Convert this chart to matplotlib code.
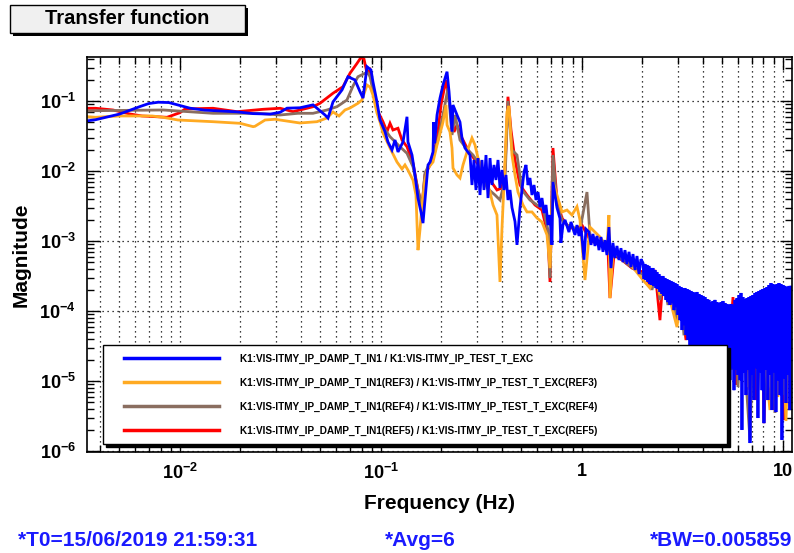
import matplotlib
matplotlib.use("Agg")
import matplotlib.pyplot as plt
from matplotlib import font_manager
from matplotlib.ticker import LogLocator, FuncFormatter, NullFormatter
from matplotlib.patches import Rectangle
from matplotlib.lines import Line2D
from matplotlib.legend_handler import HandlerLine2D

# ---------------- data ----------------
blue_f = [0.00345, 0.0038, 0.0050, 0.0063, 0.0070, 0.0078, 0.0088, 0.0100, 0.0112, 0.0133,
          0.0160, 0.0192, 0.0231, 0.0281, 0.0315, 0.0341, 0.0395, 0.0459, 0.0527, 0.0545,
          0.0577, 0.0640, 0.0685, 0.0742, 0.0786, 0.0814, 0.0852, 0.0892, 0.0912, 0.0955,
          0.0989, 0.1047, 0.1083, 0.1134, 0.1174, 0.1215, 0.1287, 0.1347, 0.1362, 0.1427,
          0.1476, 0.1528, 0.1581, 0.1618, 0.1675, 0.1714, 0.1754, 0.1815, 0.1830, 0.1850,
          0.1900, 0.1966, 0.2035, 0.2131, 0.2180, 0.2256, 0.2282, 0.2389, 0.2472, 0.2529,
          0.2618, 0.2773, 0.2836, 0.2902, 0.2969, 0.3039, 0.3109, 0.3180, 0.3254, 0.3330,
          0.3407, 0.3487, 0.3567, 0.3650, 0.3734, 0.3821, 0.3909, 0.4000, 0.4093, 0.4187,
          0.4284, 0.4384, 0.4485, 0.4642, 0.4750, 0.4916, 0.5030, 0.5147, 0.5266, 0.5388,
          0.5512, 0.5639, 0.5772, 0.5906, 0.6043, 0.6183, 0.6324, 0.6471, 0.6622, 0.6774,
          0.6933, 0.7090, 0.7172, 0.7509, 0.7771, 0.7850,
          0.8043, 0.8233, 0.8616, 0.8815, 0.9230, 0.9443, 0.9662, 0.9886, 1.023, 1.047,
          1.084, 1.109, 1.134, 1.161, 1.188, 1.215, 1.243, 1.272, 1.301, 1.331,
          1.362, 1.394, 1.426, 1.459, 1.493, 1.528, 1.563, 1.600, 1.637, 1.675,
          1.714, 1.754, 1.794, 1.836, 1.878, 1.922, 1.966,
          2.012, 2.035, 2.058, 2.082, 2.106, 2.130, 2.154, 2.179, 2.204, 2.229,
          2.255, 2.281, 2.308, 2.334, 2.361, 2.388, 2.416, 2.443, 2.472, 2.500,
          2.529, 2.558, 2.588, 2.618, 2.648, 2.678, 2.709, 2.741, 2.772, 2.804,
          2.836, 2.869, 2.902, 2.936, 2.969, 3.004, 3.038, 3.073, 3.109, 3.145,
          3.181, 3.217, 3.254, 3.292, 3.330, 3.368, 3.407, 3.446, 3.486, 3.526,
          3.567, 3.608, 3.650, 3.692, 3.734, 3.777, 3.821, 3.865, 3.909, 3.955,
          4.000, 4.046, 4.093, 4.140, 4.187, 4.236, 4.284, 4.334, 4.384, 4.435,
          4.485, 4.537, 4.589, 4.642, 4.696, 4.750, 4.805, 4.861, 4.916, 4.973,
          5.030, 5.088, 5.147, 5.206, 5.266, 5.326, 5.388, 5.451, 5.513, 5.576,
          5.641, 5.706, 5.772, 5.837, 5.906, 5.972, 6.043, 6.112, 6.183, 6.252,
          6.324, 6.397, 6.471, 6.545, 6.622, 6.698, 6.775, 6.853, 6.933, 7.013,
          7.093, 7.173, 7.258, 7.341, 7.426, 7.509, 7.598, 7.684, 7.773, 7.862,
          7.954, 8.044, 8.138, 8.230, 8.327, 8.421, 8.519, 8.615, 8.717, 8.816,
          8.919, 9.020, 9.126, 9.230, 9.336, 9.443, 9.553, 9.663, 9.772, 9.886,
          10.00, 10.12, 10.23, 10.35, 10.47, 10.59, 10.71, 10.83, 10.96]
blue_m = [0.052, 0.054, 0.065, 0.083, 0.092, 0.096, 0.095, 0.086, 0.079, 0.074,
          0.072, 0.070, 0.066, 0.065, 0.069, 0.079, 0.080, 0.088, 0.063, 0.057,
          0.097, 0.144, 0.222, 0.200, 0.136, 0.110, 0.309, 0.277, 0.188, 0.097,
          0.0535, 0.0365, 0.026, 0.020, 0.0277, 0.0187, 0.026, 0.0595, 0.026, 0.0169,
          0.0088, 0.0041, 0.0026, 0.0018, 0.0057, 0.0122, 0.0134, 0.0187, 0.050, 0.025,
          0.063, 0.110, 0.169, 0.262, 0.137, 0.0365, 0.0877, 0.0631, 0.050, 0.0296,
          0.0213, 0.0169, 0.00631, 0.01437, 0.00535, 0.0153, 0.00454, 0.01437, 0.00535, 0.0169,
          0.00411, 0.0153, 0.00631, 0.0122, 0.00744, 0.01437, 0.00572, 0.01033, 0.00535, 0.00877,
          0.00385, 0.00535, 0.0030, 0.0019, 0.00088, 0.0030, 0.00535, 0.0097, 0.0122, 0.00631,
          0.00794, 0.00454, 0.00631, 0.00385, 0.0050, 0.00306, 0.00411, 0.00251, 0.00327, 0.00169,
          0.00235, 0.00088, 0.0070, 0.0030, 0.0021, 0.00094,
          0.0017, 0.0020, 0.00134, 0.00187, 0.00122, 0.00169, 0.00118, 0.0016, 0.00054, 0.00148,
          1.34e-3, 8.8e-4, 1.26e-3, 8.5e-4, 1.18e-3, 7.4e-4, 1.14e-3, 7.0e-4, 1.03e-3, 6.3e-4,
          1.58e-3, 4.1e-4, 9.4e-4, 5.7e-4, 8.5e-4, 5.35e-4, 7.9e-4, 5.0e-4, 7.4e-4, 4.69e-4,
          7.0e-4, 4.25e-4, 6.5e-4, 3.85e-4, 6.1e-4, 3.37e-4, 5.5e-4,
          4.85e-4, 2.86e-4, 4.69e-4, 2.77e-4, 4.54e-4, 2.60e-4, 4.39e-4, 2.43e-4, 4.11e-4, 2.35e-4,
          4.11e-4, 2.28e-4, 3.85e-4, 2.13e-4, 3.60e-4, 2.06e-4, 3.37e-4, 1.87e-4, 3.16e-4, 1.75e-4,
          3.16e-4, 1.64e-4, 2.96e-4, 1.44e-4, 2.86e-4, 1.34e-4, 2.77e-4, 1.22e-4, 2.68e-4, 1.30e-4,
          2.60e-4, 1.03e-4, 2.51e-4, 1.14e-4, 2.43e-4, 8.8e-5, 2.28e-4, 7.4e-5, 2.20e-4, 5.35e-5,
          2.13e-4, 6.3e-5, 2.13e-4, 4.54e-5, 2.06e-4, 3.85e-5, 2.0e-4, 3.27e-5, 1.93e-4, 2.77e-5,
          1.87e-4, 2.35e-5, 1.81e-4, 2.0e-5, 1.87e-4, 1.69e-5, 1.75e-4, 1.44e-5, 1.69e-4, 2.0e-5,
          1.64e-4, 1.22e-5, 1.58e-4, 1.69e-5, 1.48e-4, 1.03e-5, 1.44e-4, 1.44e-5, 1.34e-4, 8.8e-6,
          1.39e-4, 1.34e-5, 1.44e-4, 7.4e-6, 1.34e-4, 1.22e-5, 1.30e-4, 1.03e-5, 1.34e-4, 8.8e-6,
          1.39e-4, 1.1e-5, 1.30e-4, 7.4e-6, 1.26e-4, 1.34e-5, 1.22e-4, 1.03e-5, 1.26e-4, 1.53e-5,
          1.22e-4, 7.4e-6, 1.44e-4, 1.44e-5, 1.53e-4, 1.22e-5, 1.69e-4, 1.03e-5, 1.81e-4, 2.0e-6,
          1.58e-4, 1.34e-5, 1.48e-4, 6.3e-6, 1.53e-4, 1.44e-5, 1.58e-4, 1.30e-6, 1.64e-4, 1.22e-5,
          1.69e-4, 5.35e-6, 1.81e-4, 1.53e-5, 1.87e-4, 2.96e-6, 1.93e-4, 1.34e-5, 2.0e-4, 7.4e-6,
          2.06e-4, 2.5e-6, 2.13e-4, 1.44e-5, 2.20e-4, 5.35e-6, 2.35e-4, 1.22e-5, 2.51e-4, 3.85e-6,
          2.43e-4, 1.34e-5, 2.35e-4, 3.6e-6, 2.43e-4, 1.03e-5, 2.51e-4, 6.3e-6, 2.43e-4, 1.44e-6,
          2.35e-4, 1.1e-5, 2.28e-4, 4.85e-6, 2.20e-4, 1.22e-5, 2.28e-4, 3.85e-6, 2.20e-4]

orange_f = [0.00345, 0.0038, 0.0050, 0.00726, 0.00823, 0.00977, 0.0146, 0.0199, 0.0231, 0.0236,
            0.0265, 0.0297, 0.0395, 0.0480, 0.0539, 0.0577, 0.0618, 0.0662, 0.0701, 0.0768,
            0.0804, 0.0852, 0.0882, 0.0912, 0.0955, 0.0989, 0.1023, 0.1109, 0.1201, 0.1272,
            0.1316, 0.1362, 0.1443, 0.1493, 0.1528, 0.1563, 0.1600, 0.1655, 0.1714, 0.1815,
            0.1900, 0.2035, 0.2106, 0.2131, 0.2204, 0.2256, 0.2282, 0.2389, 0.2472, 0.2559,
            0.2679, 0.2836, 0.2936, 0.3039, 0.3180, 0.3369, 0.3487, 0.3609, 0.3777, 0.3909,
            0.4000, 0.4140, 0.4237, 0.4334, 0.4485, 0.4642, 0.4805, 0.5088, 0.5326, 0.5639,
            0.5973, 0.6324, 0.6698, 0.6933, 0.7172, 0.7509, 0.7954, 0.8422, 0.8918, 0.9443,
            0.9772, 1.035, 1.096, 1.229, 1.332, 1.362, 1.378, 1.426, 1.675,
            2.012, 2.179, 2.308, 2.443, 2.588, 2.741, 2.969, 3.145, 3.368, 3.608,
            3.865, 4.093, 4.284, 4.537, 4.861, 5.206, 5.576, 5.972, 6.397, 6.698,
            7.013, 7.341, 7.862, 8.230, 8.615, 9.020, 9.443, 9.886, 10.35, 10.83]
orange_m = [0.0597, 0.0585, 0.0611, 0.0611, 0.0585, 0.0535, 0.0506, 0.048, 0.043, 0.0435,
            0.0535, 0.0548, 0.0485, 0.0506, 0.0572, 0.0697, 0.0611, 0.0744, 0.0794, 0.0927,
            0.1033, 0.169, 0.158, 0.1218, 0.0674, 0.050, 0.0349, 0.0213, 0.01345, 0.0107,
            0.0122, 0.0103, 0.0074, 0.00454, 0.00074, 0.00144, 0.00327, 0.0074, 0.0110, 0.01345,
            0.0235, 0.050, 0.0877, 0.0454, 0.0361, 0.0213, 0.0110, 0.00877, 0.00794, 0.0122,
            0.0187, 0.0296, 0.0235, 0.0153, 0.0110, 0.00697, 0.0050, 0.00327, 0.00235, 0.00026,
            0.00153, 0.01345, 0.070, 0.085, 0.0169, 0.00877, 0.0050, 0.00327, 0.0026, 0.0026,
            0.00213, 0.00187, 0.00122, 0.00041, 0.00697, 0.00454, 0.0026, 0.00277, 0.00235, 0.0031,
            0.0020, 0.000277, 0.00158, 0.00114, 0.00082, 0.00235, 0.000153, 0.00067, 0.000535,
            2.77e-4, 2.13e-4, 3.27e-4, 1.69e-4, 2.6e-4, 1.44e-4, 5.9e-5, 2.0e-4, 1.03e-4, 1.69e-4,
            5.35e-5, 1.34e-4, 3.27e-5, 1.34e-4, 5.35e-5, 1.22e-4, 3.85e-5, 1.30e-4, 2.0e-5, 8.2e-6,
            1.34e-4, 2.77e-5, 1.69e-4, 1.44e-5, 3.85e-6, 2.0e-4, 5.9e-6, 1.87e-4, 2.68e-6, 1.69e-4]

brown_f = [0.00345, 0.0038, 0.00823, 0.0146, 0.0244, 0.0315, 0.0386, 0.0459, 0.0539, 0.0604,
           0.0677, 0.0726, 0.0768, 0.0833, 0.0862, 0.0882, 0.0912, 0.0966, 0.1023, 0.1109,
           0.1243, 0.1347, 0.1443, 0.1528, 0.1600, 0.1655, 0.1815, 0.1921, 0.2058, 0.2154,
           0.2256, 0.2334, 0.2472, 0.2648, 0.2870, 0.3109, 0.3369, 0.3692, 0.3909, 0.4140,
           0.4283, 0.4485, 0.4750, 0.5030, 0.5512, 0.5973, 0.6397, 0.6774, 0.6933, 0.7172,
           0.7509, 0.7954, 0.8422, 0.9230, 0.9772, 1.059, 1.096, 1.229, 1.378, 1.545, 1.733,
           2.012, 2.130, 2.229, 2.334, 2.443, 2.558, 2.678, 2.804, 2.936, 3.073,
           3.217, 3.368, 3.526, 3.692, 3.865, 4.046, 4.236, 4.435, 4.642, 4.861,
           5.088, 5.326, 5.576, 5.837, 5.972, 6.252, 6.545, 6.853, 7.173, 7.509,
           7.862, 8.230, 8.615, 9.126, 9.553, 10.00, 10.47, 10.96]
brown_m = [0.0720, 0.0727, 0.0744, 0.0667, 0.0667, 0.0631, 0.0667, 0.0667, 0.0744, 0.0829,
           0.1033, 0.164, 0.222, 0.249, 0.251, 0.222, 0.1437, 0.0668, 0.043, 0.0309,
           0.0222, 0.0179, 0.0115, 0.00535, 0.00311, 0.00936, 0.0160, 0.0277, 0.0744, 0.153,
           0.0327, 0.0631, 0.0277, 0.0213, 0.0169, 0.0122, 0.00572, 0.00454, 0.00385, 0.00744,
           0.100, 0.020, 0.0169, 0.00535, 0.00385, 0.00327, 0.00296, 0.00144, 0.000296, 0.0169,
           0.00327, 0.0020, 0.00169, 0.00153, 0.00144, 0.0050, 0.00122, 0.00097, 0.00074, 0.00057, 0.00044,
           3.27e-4, 4.4e-4, 2.0e-4, 3.6e-4, 1.44e-4, 2.77e-4, 1.22e-4, 2.43e-4, 7.4e-5, 2.13e-4,
           4.5e-5, 1.87e-4, 3.3e-5, 1.64e-4, 5.35e-5, 1.44e-4, 3.5e-5, 1.34e-4, 3.85e-5, 1.22e-4,
           3.5e-5, 1.22e-4, 1.44e-5, 1.30e-4, 8.2e-6, 1.44e-4, 1.03e-5, 1.44e-6, 1.44e-4, 7.4e-6,
           1.69e-4, 5.35e-6, 2.0e-4, 3.5e-6, 2.0e-4, 6.3e-6, 1.87e-4, 5.35e-6]

red_f = [0.00345, 0.0038, 0.00464, 0.00564, 0.00647, 0.00862, 0.0100, 0.01059, 0.0146, 0.0192,
         0.0259, 0.0315, 0.0365, 0.0428, 0.0459, 0.0497, 0.0577, 0.0647, 0.0701, 0.0760,
         0.0795, 0.0823, 0.0852, 0.0882, 0.0912, 0.0966, 0.1023, 0.1071, 0.1109, 0.1147,
         0.1215, 0.1272, 0.1347, 0.1443, 0.1528, 0.1600, 0.1655, 0.1754, 0.1900, 0.1989,
         0.2106, 0.2180, 0.2308, 0.2389, 0.2529, 0.2709, 0.2936, 0.3180, 0.3487, 0.3777,
         0.4000, 0.4140, 0.4283, 0.4434, 0.4642, 0.4916, 0.5326, 0.5837, 0.6324, 0.6774,
         0.6933, 0.7172, 0.7509, 0.7954, 0.8422, 0.9230, 1.000, 1.096, 1.229, 1.347,
         1.378, 1.443, 1.581, 1.774,
         2.012, 2.179, 2.308, 2.443, 2.529, 2.678, 2.804, 2.936, 3.073, 3.292,
         3.526, 3.865, 4.236, 4.642, 5.088, 5.451, 5.641, 5.837, 6.252, 6.622,
         7.013, 7.341, 7.862, 8.044, 8.421, 9.020, 9.553, 10.12, 10.71]
red_m = [0.0787, 0.0787, 0.0744, 0.0652, 0.0611, 0.0585, 0.0681, 0.0769, 0.0787, 0.0704,
         0.0761, 0.0787, 0.0704, 0.0787, 0.0829, 0.0927, 0.129, 0.160, 0.249, 0.345,
         0.418, 0.398, 0.249, 0.277, 0.1437, 0.0704, 0.0506, 0.0365, 0.0480, 0.0385,
         0.0408, 0.0277, 0.0222, 0.0129, 0.00535, 0.00311, 0.00877, 0.0122, 0.0277, 0.0877,
         0.200, 0.1033, 0.0361, 0.0454, 0.0296, 0.020, 0.01437, 0.01033, 0.00744, 0.00535,
         0.00572, 0.01033, 0.115, 0.0385, 0.01437, 0.00631, 0.00454, 0.00327, 0.00277, 0.00122,
         0.00026, 0.0213, 0.00385, 0.00213, 0.00169, 0.00144, 0.00169, 0.00103, 0.000877, 0.000744,
         0.000153, 0.00063, 0.000535, 0.00041,
         3.6e-4, 2.35e-4, 3.85e-4, 7.4e-5, 2.96e-4, 1.44e-4, 2.35e-4, 8.8e-5, 2.0e-4, 3.85e-5,
         1.69e-4, 3.85e-5, 1.44e-4, 3.27e-5, 1.30e-4, 3.85e-5, 1.58e-4, 8.8e-6, 1.44e-4, 7.4e-6,
         1.53e-4, 5.35e-6, 1.64e-4, 2.5e-6, 1.87e-4, 3.85e-6, 2.13e-4, 2.77e-6, 2.0e-4]

labels = ["K1:VIS-ITMY_IP_DAMP_T_IN1 / K1:VIS-ITMY_IP_TEST_T_EXC",
          "K1:VIS-ITMY_IP_DAMP_T_IN1(REF3) / K1:VIS-ITMY_IP_TEST_T_EXC(REF3)",
          "K1:VIS-ITMY_IP_DAMP_T_IN1(REF4) / K1:VIS-ITMY_IP_TEST_T_EXC(REF4)",
          "K1:VIS-ITMY_IP_DAMP_T_IN1(REF5) / K1:VIS-ITMY_IP_TEST_T_EXC(REF5)"]
x_ticks = [0.01, 0.1, 1, 10]
x_tick_labels = [r"$10^{-2}$", r"$10^{-1}$", "1", "10"]
y_ticks = [1e-6, 1e-5, 1e-4, 1e-3, 1e-2, 1e-1]
y_tick_labels = [r"$10^{-6}$", r"$10^{-5}$", r"$10^{-4}$", r"$10^{-3}$", r"$10^{-2}$", r"$10^{-1}$"]
title_text = "Transfer function"
info_t0 = "*T0=15/06/2019 21:59:31"
info_avg = "*Avg=6"
info_bw = "*BW=0.005859"

# ---------------- style ----------------
names = {f.name for f in font_manager.fontManager.ttflist}
base = "Liberation Sans" if "Liberation Sans" in names else "DejaVu Sans"
plt.rcParams["font.family"] = [base, "DejaVu Sans"]
plt.rcParams["font.weight"] = "bold"
plt.rcParams["mathtext.fontset"] = "custom"
plt.rcParams["mathtext.rm"] = base + ":bold"
plt.rcParams["mathtext.bf"] = base + ":bold"
plt.rcParams["mathtext.it"] = base + ":bold"
plt.rcParams["mathtext.default"] = "rm"

c_blue = "#0000ff"
c_orange = "#ffaa22"
c_brown = "#8a6e60"
c_red = "#ff0000"
lw = 2.0

fig = plt.figure(figsize=(7.94, 5.53), dpi=100)
ax = fig.add_axes([87 / 794, 1 - 452 / 553, 705 / 794, 395 / 553])

# reference traces drawn underneath, the live trace (blue) on top
l_rd, = ax.plot(red_f, red_m, color=c_red, lw=lw, label=labels[3], solid_joinstyle="miter")
l_br, = ax.plot(brown_f, brown_m, color=c_brown, lw=lw, label=labels[2], solid_joinstyle="miter")
l_or, = ax.plot(orange_f, orange_m, color=c_orange, lw=lw, label=labels[1], solid_joinstyle="miter")
l_bl, = ax.plot(blue_f, blue_m, color=c_blue, lw=lw, label=labels[0], solid_joinstyle="miter")

ax.set_xscale("log")
ax.set_yscale("log")
ax.set_xlim(0.003446, 11.09)
ax.set_ylim(9.68e-7, 0.425)

ax.xaxis.set_major_locator(LogLocator(base=10, numticks=20))
ax.xaxis.set_minor_locator(LogLocator(base=10, subs=range(2, 10), numticks=40))
ax.yaxis.set_major_locator(LogLocator(base=10, numticks=20))
ax.yaxis.set_minor_locator(LogLocator(base=10, subs=range(2, 10), numticks=40))

xmap = dict(zip(x_ticks, x_tick_labels))
ymap = dict(zip(y_ticks, y_tick_labels))


def fx(v, pos):
    for k, s in xmap.items():
        if abs(v / k - 1) < 1e-6:
            return s
    return ""


def fy(v, pos):
    for k, s in ymap.items():
        if abs(v / k - 1) < 1e-6:
            return s
    return ""


ax.xaxis.set_major_formatter(FuncFormatter(fx))
ax.yaxis.set_major_formatter(FuncFormatter(fy))
ax.xaxis.set_minor_formatter(NullFormatter())
ax.yaxis.set_minor_formatter(NullFormatter())

ax.tick_params(which="both", direction="in", top=True, right=True, width=1.0, color="black")
ax.tick_params(which="major", length=9, labelsize=13, pad=8)
ax.tick_params(which="minor", length=5)
for sp in ax.spines.values():
    sp.set_linewidth(1.2)

ax.grid(True, which="major", axis="both", color="black", linestyle=(0, (1, 3)), linewidth=0.9)
ax.grid(True, which="minor", axis="x", color="black", linestyle=(0, (1, 3)), linewidth=0.9)

ax.set_xlabel("Frequency (Hz)", fontsize=15, fontweight="bold", labelpad=8)
ax.set_ylabel("Magnitude", fontsize=15, fontweight="bold", labelpad=6)

leg = ax.legend(handles=[l_bl, l_or, l_br, l_rd], loc="upper left",
                bbox_to_anchor=(0.0227, 0.0, 0.885, 0.2709), mode="expand",
                fontsize=7.2, handlelength=10.7, handletextpad=2.1, labelspacing=1.4,
                borderpad=0.85, borderaxespad=0, fancybox=False, framealpha=1,
                edgecolor="black", shadow={"color": "black", "alpha": 1.0},
                handler_map={Line2D: HandlerLine2D(xpad=1.2)})
leg.get_frame().set_linewidth(1.0)
for t in leg.get_texts():
    t.set_fontweight("bold")
for h in leg.legend_handles:
    h.set_linewidth(2.5)

# title box
fig.add_artist(Rectangle((13 / 794, 1 - 36 / 553), 235 / 794, 28 / 553, transform=fig.transFigure,
                         facecolor="black", edgecolor="black", lw=0))
fig.add_artist(Rectangle((10 / 794, 1 - 33 / 553), 235 / 794, 28 / 553, transform=fig.transFigure,
                         facecolor="#f0f0f0", edgecolor="black", lw=1.0))
fig.text(127 / 794, 1 - 19 / 553, title_text, ha="center", va="center", fontsize=14.5,
         fontweight="bold", color="black")

# info line
fig.text(18 / 794, 1 - 540 / 553, info_t0, ha="left", va="center", fontsize=15,
         fontweight="bold", color="#1a1aff")
fig.text(385 / 794, 1 - 540 / 553, info_avg, ha="left", va="center", fontsize=15,
         fontweight="bold", color="#1a1aff")
fig.text(792 / 794, 1 - 540 / 553, info_bw, ha="right", va="center", fontsize=15,
         fontweight="bold", color="#1a1aff")

fig.savefig("out.png", dpi=100)
